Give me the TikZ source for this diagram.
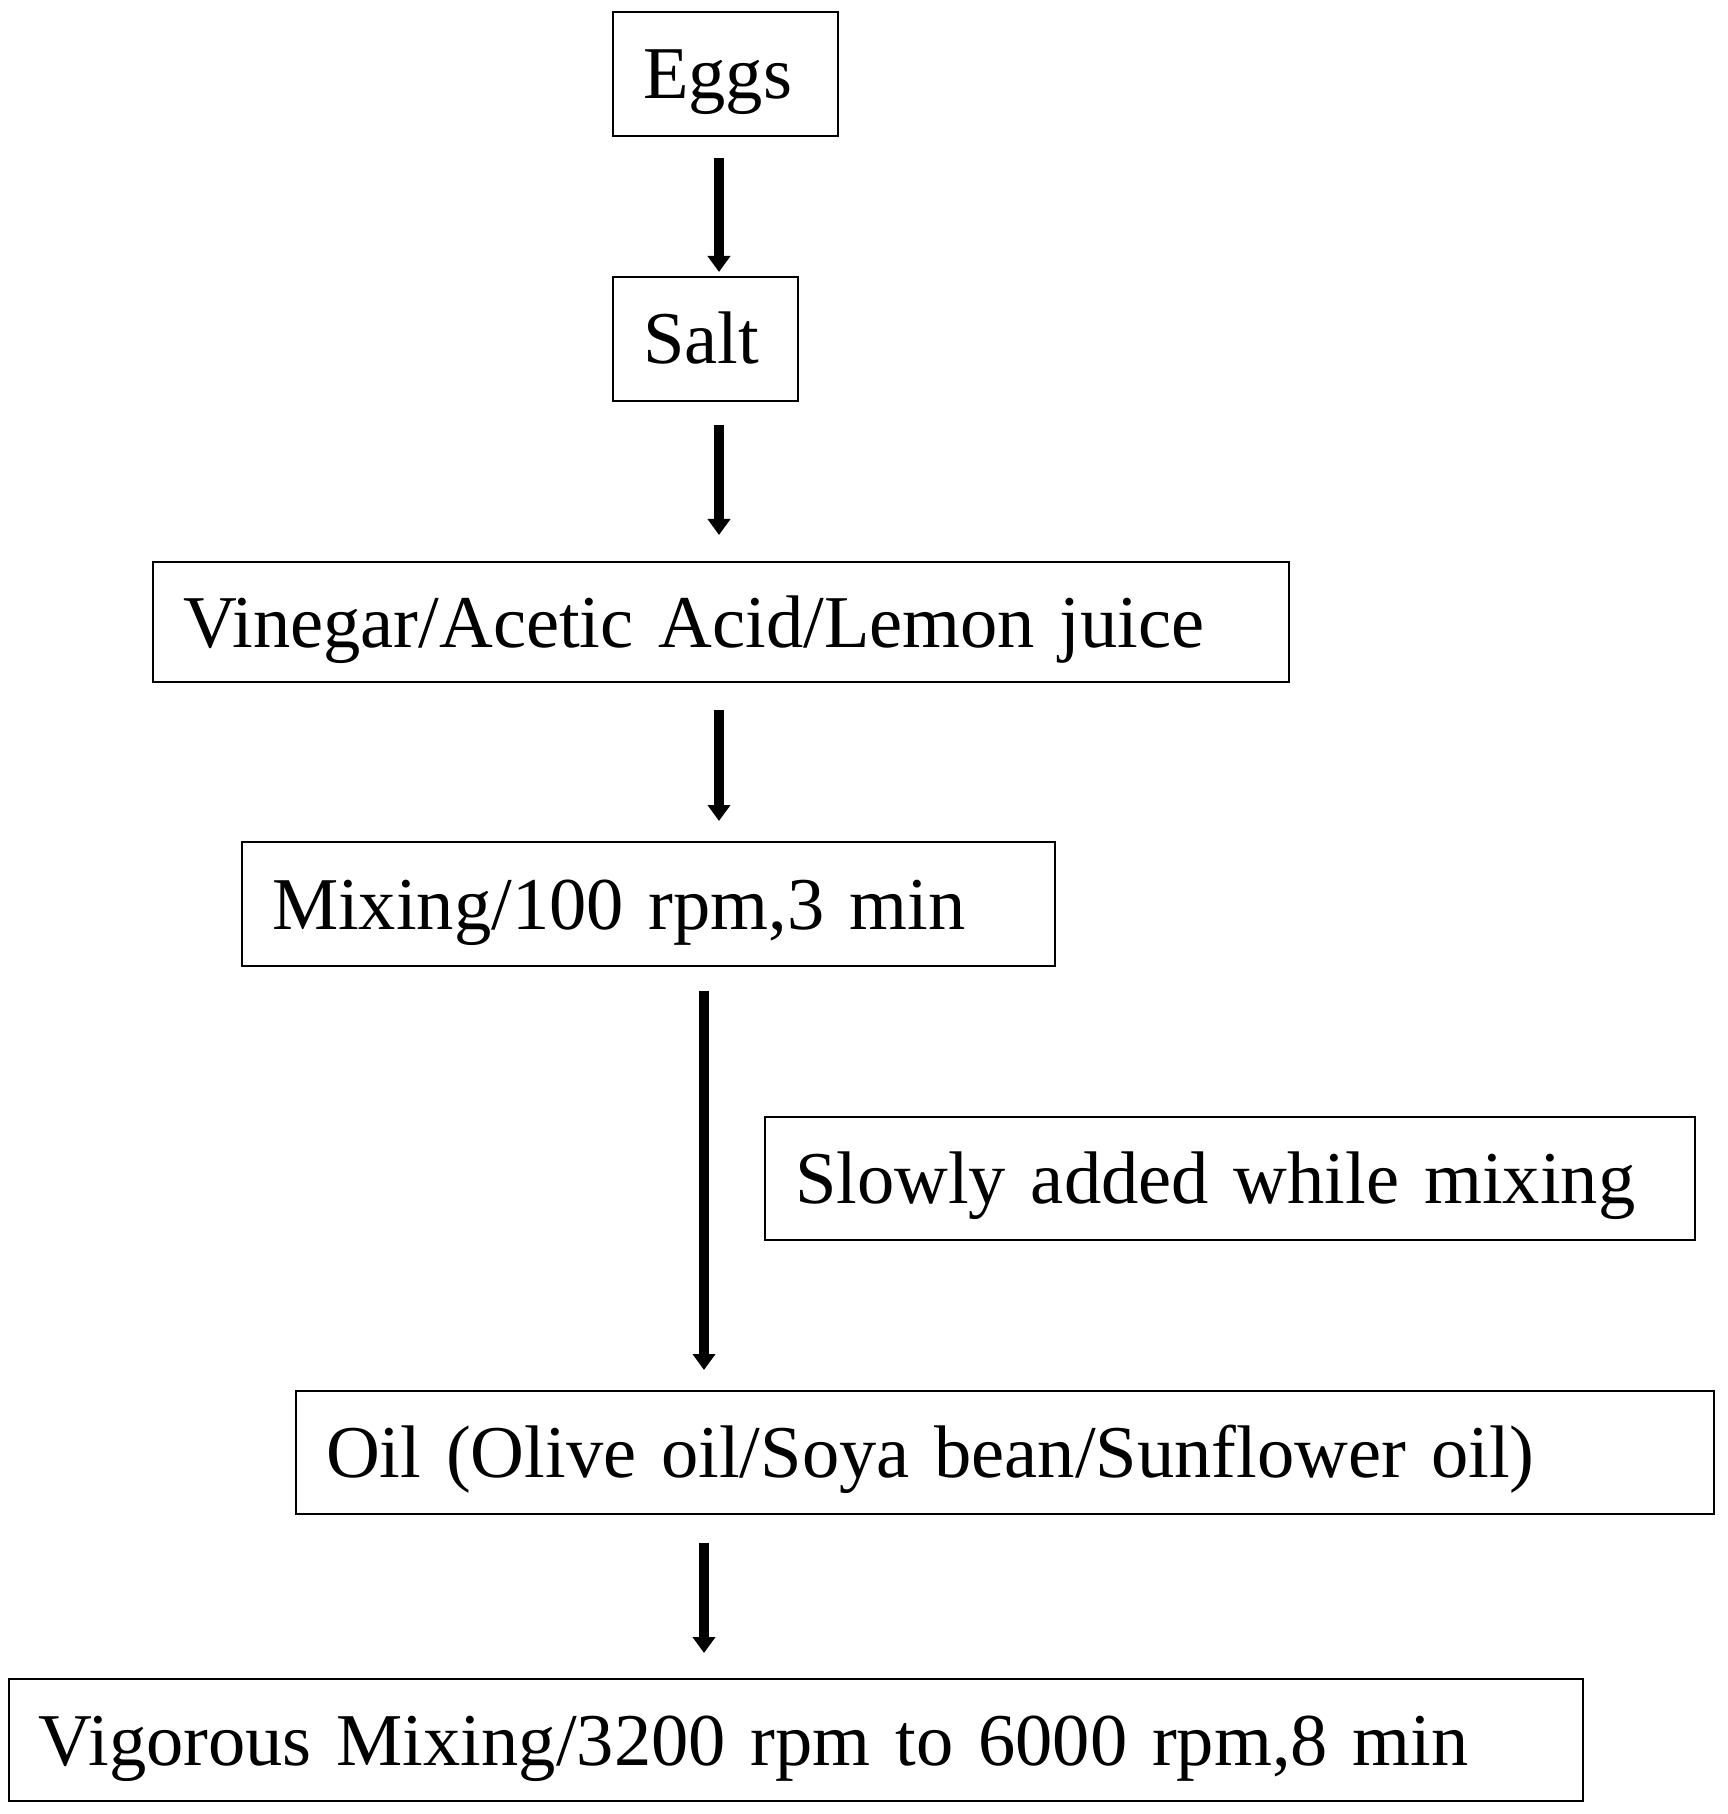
\documentclass[tikz,border=0pt]{standalone}
\usepackage{fontspec}
\setmainfont{Liberation Serif}
\usetikzlibrary{arrows.meta}
\tikzset{
    step/.style={draw, line width=0.8pt, inner xsep=0.3cm, minimum height=#1,
        text height=0.62cm, text depth=0.12cm,
        align=left, anchor=center, font=\fontsize{21.2}{25}\selectfont},
    flow/.style={line width=2.8pt, -{Triangle[width=0.22cm,length=0.16cm]}}
}
\begin{document}
\begin{tikzpicture}
    \useasboundingbox (0,0) rectangle (17.27,-18.14);

    % Process boxes
    \node[step=1.24cm, text width=1.65cm] (eggs) at (7.255,-0.74) {Eggs};
    \node[step=1.24cm, text width=1.25cm] (salt) at (7.055,-3.39) {Salt};
    \node[step=1.2cm, text width=10.76cm] (vinegar) at (7.21,-6.22) {Vinegar/Acetic Acid/Lemon juice};
    \node[step=1.24cm, text width=7.53cm] (mixing) at (6.485,-9.04) {Mixing/100 rpm,3 min};
    \node[step=1.23cm, text width=8.7cm] (slowly) at (12.3,-11.785) {Slowly added while mixing};
    \node[step=1.23cm, text width=13.58cm] (oil) at (10.05,-14.525) {Oil (Olive oil/Soya bean/Sunflower oil)};
    \node[step=1.22cm, text width=15.14cm] (vigorous) at (7.96,-17.4) {Vigorous Mixing/3200 rpm to 6000 rpm,8 min};

    % Arrow ends
    \coordinate (a1) at (7.19,-1.58);  \coordinate (b1) at (7.19,-2.72);
    \coordinate (a2) at (7.19,-4.25);  \coordinate (b2) at (7.19,-5.35);
    \coordinate (a3) at (7.19,-7.10);  \coordinate (b3) at (7.19,-8.21);
    \coordinate (a4) at (7.04,-9.91);  \coordinate (b4) at (7.04,-13.70);
    \coordinate (a5) at (7.04,-15.43); \coordinate (b5) at (7.04,-16.53);

    \draw[flow] (a1) -- (b1);
    \draw[flow] (a2) -- (b2);
    \draw[flow] (a3) -- (b3);
    \draw[flow] (a4) -- (b4);
    \draw[flow] (a5) -- (b5);
\end{tikzpicture}
\end{document}
